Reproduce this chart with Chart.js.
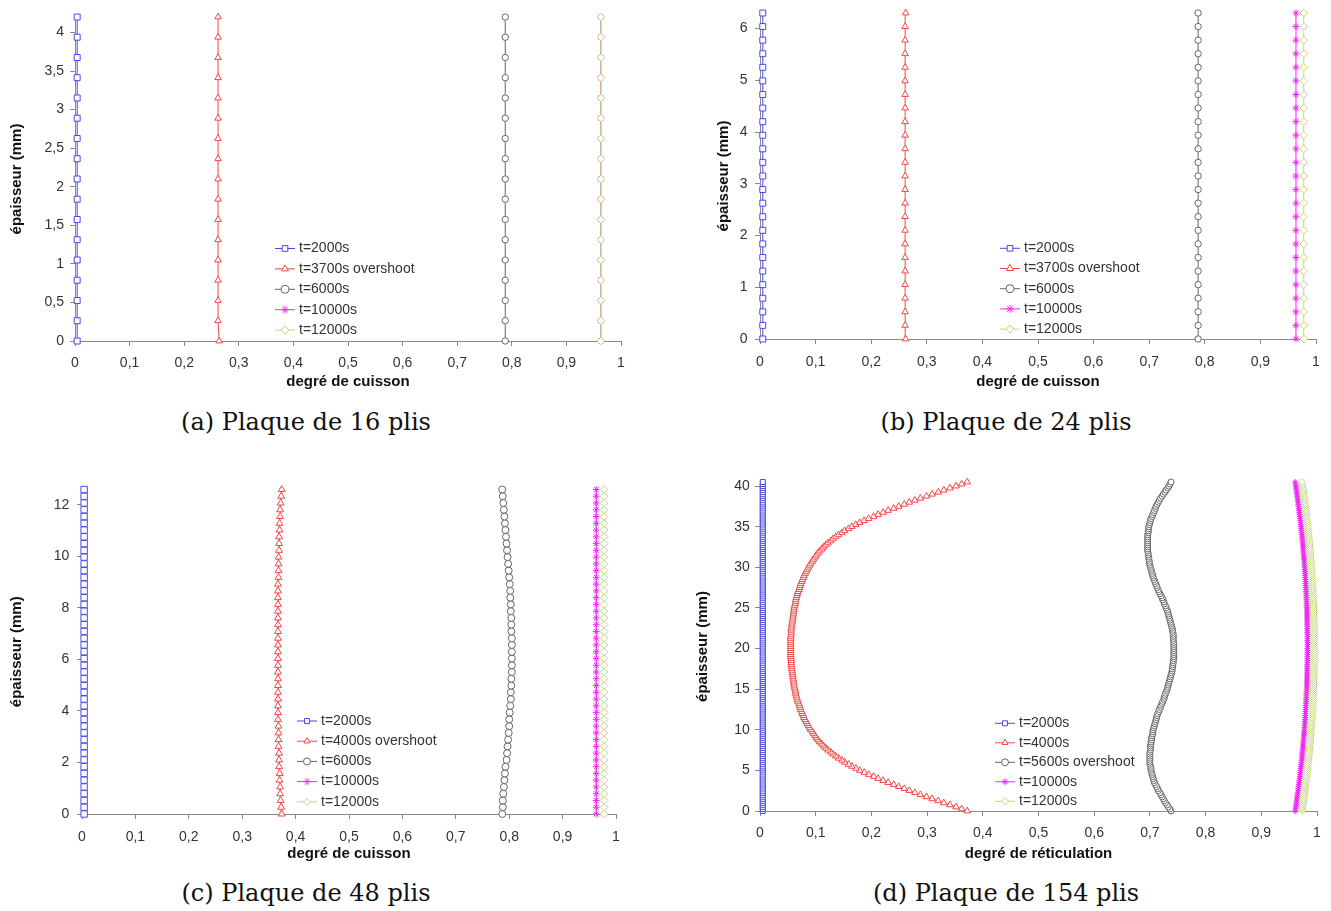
<!DOCTYPE html>
<html lang="fr">
<head>
<meta charset="utf-8">
<title>Degré de cuisson - plaques</title>
<script src="https://cdn.jsdelivr.net/npm/chart.js@4.4.1/dist/chart.umd.min.js"></script>
<style>
  body { margin: 0; background: #fff; }
  #page { position: relative; width: 1331px; height: 911px; overflow: hidden; background: #fff; }
  canvas { position: absolute; }
  .cap { position: absolute; width: 500px; text-align: center; line-height: 28px;
         font-family: "DejaVu Serif", "Liberation Serif", serif; font-size: 24px; color: #111; }
</style>
</head>
<body>
<div id="page">
  <canvas id="chartA" width="650" height="400" style="left:0;top:0"></canvas>
  <canvas id="chartB" width="666" height="400" style="left:665px;top:0"></canvas>
  <canvas id="chartC" width="650" height="400" style="left:0;top:470px"></canvas>
  <canvas id="chartD" width="666" height="400" style="left:665px;top:470px"></canvas>
  <div class="cap" style="left:56px;top:408px">(a) Plaque de 16 plis</div>
  <div class="cap" style="left:756px;top:408px">(b) Plaque de 24 plis</div>
  <div class="cap" style="left:56px;top:879px">(c) Plaque de 48 plis</div>
  <div class="cap" style="left:756px;top:879px">(d) Plaque de 154 plis</div>
</div>
<script>
// tick values
const xTicks = [0, 0.1, 0.2, 0.3, 0.4, 0.5, 0.6, 0.7, 0.8, 0.9, 1];
const yTicksA = [0, 0.5, 1, 1.5, 2, 2.5, 3, 3.5, 4];
const yTicksB = [0, 1, 2, 3, 4, 5, 6];
const yTicksC = [0, 2, 4, 6, 8, 10, 12];
const yTicksD = [0, 5, 10, 15, 20, 25, 30, 35, 40];

// legends
const labelsAB = ['t=2000s', 't=3700s overshoot', 't=6000s', 't=10000s', 't=12000s'];
const labelsC = ['t=2000s', 't=4000s overshoot', 't=6000s', 't=10000s', 't=12000s'];
const labelsD = ['t=2000s', 't=4000s', 't=5600s overshoot', 't=10000s', 't=12000s'];

// épaisseur (mm)
const thickA = [0, 0.263, 0.525, 0.788, 1.05, 1.313, 1.575, 1.838, 2.1, 2.363,
  2.625, 2.888, 3.15, 3.413, 3.675, 3.938, 4.2];
const thickB = [0, 0.263, 0.525, 0.788, 1.05, 1.313, 1.575, 1.838, 2.1, 2.363,
  2.625, 2.888, 3.15, 3.413, 3.675, 3.938, 4.2, 4.463, 4.725, 4.988,
  5.25, 5.513, 5.775, 6.038, 6.3];
const thickC = [0, 0.263, 0.525, 0.788, 1.05, 1.313, 1.575, 1.838, 2.1, 2.363,
  2.625, 2.888, 3.15, 3.413, 3.675, 3.938, 4.2, 4.463, 4.725, 4.988,
  5.25, 5.513, 5.775, 6.038, 6.3, 6.563, 6.825, 7.088, 7.35, 7.613,
  7.875, 8.138, 8.4, 8.663, 8.925, 9.188, 9.45, 9.713, 9.975, 10.238,
  10.5, 10.763, 11.025, 11.288, 11.55, 11.813, 12.075, 12.338, 12.6];
const thickD = [0, 0.25, 0.5, 0.75, 1, 1.25, 1.5, 1.75,
  2, 2.25, 2.5, 2.75, 3, 3.25, 3.5, 3.75,
  4, 4.25, 4.5, 4.75, 5, 5.25, 5.5, 5.75,
  6, 6.25, 6.5, 6.75, 7, 7.25, 7.5, 7.75,
  8, 8.25, 8.5, 8.75, 9, 9.25, 9.5, 9.75,
  10, 10.25, 10.5, 10.75, 11, 11.25, 11.5, 11.75,
  12, 12.25, 12.5, 12.75, 13, 13.25, 13.5, 13.75,
  14, 14.25, 14.5, 14.75, 15, 15.25, 15.5, 15.75,
  16, 16.25, 16.5, 16.75, 17, 17.25, 17.5, 17.75,
  18, 18.25, 18.5, 18.75, 19, 19.25, 19.5, 19.75,
  20, 20.25, 20.5, 20.75, 21, 21.25, 21.5, 21.75,
  22, 22.25, 22.5, 22.75, 23, 23.25, 23.5, 23.75,
  24, 24.25, 24.5, 24.75, 25, 25.25, 25.5, 25.75,
  26, 26.25, 26.5, 26.75, 27, 27.25, 27.5, 27.75,
  28, 28.25, 28.5, 28.75, 29, 29.25, 29.5, 29.75,
  30, 30.25, 30.5, 30.75, 31, 31.25, 31.5, 31.75,
  32, 32.25, 32.5, 32.75, 33, 33.25, 33.5, 33.75,
  34, 34.25, 34.5, 34.75, 35, 35.25, 35.5, 35.75,
  36, 36.25, 36.5, 36.75, 37, 37.25, 37.5, 37.75,
  38, 38.25, 38.5, 38.75, 39, 39.25, 39.5, 39.75,
  40, 40.25, 40.5];

// (a) 16 plis
const blueA = [0.004, 0.004, 0.004, 0.004, 0.004, 0.004, 0.004, 0.004, 0.004, 0.004,
  0.004, 0.004, 0.004, 0.004, 0.004, 0.004, 0.004];
const redA = [0.264, 0.262, 0.262, 0.262, 0.262, 0.262, 0.262, 0.262, 0.262, 0.262,
  0.262, 0.262, 0.262, 0.262, 0.262, 0.262, 0.262];
const blackA = [0.788, 0.788, 0.788, 0.788, 0.788, 0.788, 0.788, 0.788, 0.788, 0.788,
  0.788, 0.788, 0.788, 0.788, 0.788, 0.788, 0.788];
const magentaA = [0.963, 0.963, 0.963, 0.963, 0.963, 0.963, 0.963, 0.963, 0.963, 0.963,
  0.963, 0.963, 0.963, 0.963, 0.963, 0.963, 0.963];
const greenA = [0.963, 0.963, 0.963, 0.963, 0.963, 0.963, 0.963, 0.963, 0.963, 0.963,
  0.963, 0.963, 0.963, 0.963, 0.963, 0.963, 0.963];

// (b) 24 plis
const blueB = [0.005, 0.005, 0.005, 0.005, 0.005, 0.005, 0.005, 0.005, 0.005, 0.005,
  0.005, 0.005, 0.005, 0.005, 0.005, 0.005, 0.005, 0.005, 0.005, 0.005,
  0.005, 0.005, 0.005, 0.005, 0.005];
const redB = [0.262, 0.261, 0.261, 0.261, 0.261, 0.261, 0.261, 0.261, 0.261, 0.261,
  0.261, 0.261, 0.261, 0.261, 0.261, 0.261, 0.261, 0.261, 0.261, 0.261,
  0.261, 0.261, 0.261, 0.261, 0.262];
const blackB = [0.788, 0.788, 0.788, 0.788, 0.788, 0.788, 0.788, 0.788, 0.788, 0.788,
  0.788, 0.788, 0.788, 0.788, 0.788, 0.788, 0.788, 0.788, 0.788, 0.788,
  0.788, 0.788, 0.788, 0.788, 0.788];
const magentaB = [0.964, 0.964, 0.964, 0.964, 0.964, 0.964, 0.964, 0.964, 0.964, 0.964,
  0.964, 0.964, 0.964, 0.964, 0.964, 0.964, 0.964, 0.964, 0.964, 0.964,
  0.964, 0.964, 0.964, 0.964, 0.964];
const greenB = [0.978, 0.978, 0.978, 0.978, 0.978, 0.978, 0.978, 0.978, 0.978, 0.978,
  0.978, 0.978, 0.978, 0.978, 0.978, 0.978, 0.978, 0.978, 0.978, 0.978,
  0.978, 0.978, 0.978, 0.978, 0.978];

// (c) 48 plis
const blueC = [0.004, 0.004, 0.004, 0.004, 0.004, 0.004, 0.004, 0.004, 0.004, 0.004,
  0.004, 0.004, 0.004, 0.004, 0.004, 0.004, 0.004, 0.004, 0.004, 0.004,
  0.004, 0.004, 0.004, 0.004, 0.004, 0.004, 0.004, 0.004, 0.004, 0.004,
  0.004, 0.004, 0.004, 0.004, 0.004, 0.004, 0.004, 0.004, 0.004, 0.004,
  0.004, 0.004, 0.004, 0.004, 0.004, 0.004, 0.004, 0.004, 0.004];
const redC = [0.374, 0.373, 0.372, 0.371, 0.371, 0.370, 0.370, 0.369, 0.369, 0.369,
  0.368, 0.368, 0.368, 0.368, 0.367, 0.367, 0.367, 0.367, 0.367, 0.367,
  0.367, 0.367, 0.367, 0.367, 0.367, 0.367, 0.367, 0.367, 0.367, 0.367,
  0.367, 0.367, 0.367, 0.367, 0.367, 0.368, 0.368, 0.368, 0.368, 0.369,
  0.369, 0.369, 0.370, 0.370, 0.371, 0.371, 0.372, 0.373, 0.374];
const blackC = [0.787, 0.788, 0.788, 0.789, 0.790, 0.791, 0.792, 0.793, 0.795, 0.796,
  0.797, 0.798, 0.799, 0.800, 0.800, 0.801, 0.802, 0.803, 0.803, 0.804,
  0.804, 0.805, 0.805, 0.805, 0.805, 0.805, 0.805, 0.804, 0.804, 0.804,
  0.803, 0.803, 0.802, 0.802, 0.801, 0.800, 0.799, 0.798, 0.797, 0.796,
  0.795, 0.794, 0.793, 0.792, 0.791, 0.790, 0.789, 0.788, 0.787];
const magentaC = [0.963, 0.963, 0.963, 0.963, 0.963, 0.963, 0.963, 0.963, 0.963, 0.963,
  0.963, 0.963, 0.963, 0.963, 0.963, 0.963, 0.963, 0.963, 0.963, 0.963,
  0.963, 0.963, 0.963, 0.963, 0.963, 0.963, 0.963, 0.963, 0.963, 0.963,
  0.963, 0.963, 0.963, 0.963, 0.963, 0.963, 0.963, 0.963, 0.963, 0.963,
  0.963, 0.963, 0.963, 0.963, 0.963, 0.963, 0.963, 0.963, 0.963];
const greenC = [0.978, 0.978, 0.978, 0.978, 0.978, 0.978, 0.978, 0.978, 0.978, 0.978,
  0.978, 0.978, 0.978, 0.978, 0.978, 0.978, 0.978, 0.978, 0.978, 0.978,
  0.978, 0.978, 0.978, 0.978, 0.978, 0.978, 0.978, 0.978, 0.978, 0.978,
  0.978, 0.978, 0.978, 0.978, 0.978, 0.978, 0.978, 0.978, 0.978, 0.978,
  0.978, 0.978, 0.978, 0.978, 0.978, 0.978, 0.978, 0.978, 0.978];

// (d) 154 plis
const blueD = [0.005, 0.005, 0.005, 0.005, 0.005, 0.005, 0.005, 0.005, 0.005, 0.005,
  0.005, 0.005, 0.005, 0.005, 0.005, 0.005, 0.005, 0.005, 0.005, 0.005,
  0.005, 0.005, 0.005, 0.005, 0.005, 0.005, 0.005, 0.005, 0.005, 0.005,
  0.005, 0.005, 0.005, 0.005, 0.005, 0.005, 0.005, 0.005, 0.005, 0.005,
  0.005, 0.005, 0.005, 0.005, 0.005, 0.005, 0.005, 0.005, 0.005, 0.005,
  0.005, 0.005, 0.005, 0.005, 0.005, 0.005, 0.005, 0.005, 0.005, 0.005,
  0.005, 0.005, 0.005, 0.005, 0.005, 0.005, 0.005, 0.005, 0.005, 0.005,
  0.005, 0.005, 0.005, 0.005, 0.005, 0.005, 0.005, 0.005, 0.005, 0.005,
  0.005, 0.005, 0.005, 0.005, 0.005, 0.005, 0.005, 0.005, 0.005, 0.005,
  0.005, 0.005, 0.005, 0.005, 0.005, 0.005, 0.005, 0.005, 0.005, 0.005,
  0.005, 0.005, 0.005, 0.005, 0.005, 0.005, 0.005, 0.005, 0.005, 0.005,
  0.005, 0.005, 0.005, 0.005, 0.005, 0.005, 0.005, 0.005, 0.005, 0.005,
  0.005, 0.005, 0.005, 0.005, 0.005, 0.005, 0.005, 0.005, 0.005, 0.005,
  0.005, 0.005, 0.005, 0.005, 0.005, 0.005, 0.005, 0.005, 0.005, 0.005,
  0.005, 0.005, 0.005, 0.005, 0.005, 0.005, 0.005, 0.005, 0.005, 0.005,
  0.005, 0.005, 0.005, 0.005, 0.005, 0.005, 0.005, 0.005, 0.005, 0.005,
  0.005, 0.005, 0.005];
const redD = [0.372, 0.362, 0.352, 0.341, 0.330, 0.320, 0.309, 0.299, 0.288, 0.278,
  0.268, 0.259, 0.249, 0.240, 0.230, 0.221, 0.212, 0.204, 0.195, 0.187,
  0.179, 0.172, 0.165, 0.159, 0.152, 0.147, 0.141, 0.136, 0.131, 0.127,
  0.122, 0.118, 0.114, 0.111, 0.107, 0.104, 0.101, 0.099, 0.096, 0.094,
  0.091, 0.089, 0.087, 0.085, 0.083, 0.081, 0.079, 0.078, 0.076, 0.075,
  0.073, 0.072, 0.071, 0.070, 0.068, 0.067, 0.066, 0.065, 0.064, 0.064,
  0.063, 0.062, 0.061, 0.061, 0.060, 0.060, 0.059, 0.059, 0.058, 0.058,
  0.057, 0.057, 0.056, 0.056, 0.056, 0.056, 0.055, 0.055, 0.055, 0.055,
  0.055, 0.055, 0.055,
  0.055, 0.055, 0.055, 0.055, 0.056, 0.056, 0.056, 0.056, 0.057, 0.057,
  0.058, 0.058, 0.059, 0.059, 0.060, 0.060, 0.061, 0.061, 0.062, 0.063,
  0.064, 0.064, 0.065, 0.066, 0.067, 0.068, 0.070, 0.071, 0.072, 0.073,
  0.075, 0.076, 0.078, 0.079, 0.081, 0.083, 0.085, 0.087, 0.089, 0.091,
  0.094, 0.096, 0.099, 0.101, 0.104, 0.107, 0.111, 0.114, 0.118, 0.122,
  0.127, 0.131, 0.136, 0.141, 0.147, 0.152, 0.159, 0.165, 0.172, 0.179,
  0.187, 0.195, 0.204, 0.212, 0.221, 0.230, 0.240, 0.249, 0.259, 0.268,
  0.278, 0.288, 0.299, 0.309, 0.320, 0.330, 0.341, 0.352, 0.362, 0.372];
const blackD = [0.738, 0.736, 0.733, 0.731, 0.728, 0.726, 0.724, 0.722, 0.720, 0.718,
  0.715, 0.714, 0.712, 0.710, 0.708, 0.707, 0.706, 0.705, 0.704, 0.703,
  0.702, 0.702, 0.701, 0.700, 0.700, 0.700, 0.700, 0.700, 0.700, 0.700,
  0.701, 0.701, 0.701, 0.702, 0.702, 0.703, 0.703, 0.704, 0.705, 0.705,
  0.706, 0.707, 0.708, 0.709, 0.710, 0.711, 0.712, 0.713, 0.714, 0.716,
  0.717, 0.719, 0.720, 0.722, 0.723, 0.725, 0.726, 0.727, 0.728, 0.730,
  0.731, 0.732, 0.733, 0.734, 0.735, 0.736, 0.737, 0.738, 0.739, 0.740,
  0.740, 0.741, 0.741, 0.742, 0.742, 0.743, 0.743, 0.743, 0.743, 0.743,
  0.743, 0.743, 0.743, 0.743, 0.742, 0.742, 0.742, 0.742, 0.741, 0.741,
  0.740, 0.739, 0.738, 0.737, 0.736, 0.735, 0.734, 0.733, 0.732, 0.731,
  0.729, 0.728, 0.726, 0.725, 0.723, 0.722, 0.720, 0.718, 0.716, 0.715,
  0.713, 0.712, 0.710, 0.709, 0.707, 0.706, 0.705, 0.704, 0.703, 0.702,
  0.701, 0.700, 0.699, 0.699, 0.698, 0.698, 0.697, 0.697, 0.696, 0.696,
  0.696, 0.696, 0.696, 0.696, 0.696, 0.696, 0.696, 0.697, 0.697, 0.698,
  0.698, 0.699, 0.700, 0.701, 0.702, 0.704, 0.705, 0.707, 0.708, 0.710,
  0.711, 0.713, 0.715, 0.717, 0.719, 0.722, 0.724, 0.727, 0.729, 0.732,
  0.734, 0.736, 0.738];
const magentaD = [0.9610, 0.9615, 0.9621, 0.9626, 0.9631, 0.9636, 0.9641, 0.9646, 0.9651, 0.9656,
  0.9661, 0.9666, 0.9670, 0.9675, 0.9680, 0.9684, 0.9688, 0.9693, 0.9697, 0.9701,
  0.9705, 0.9709, 0.9713, 0.9717, 0.9721, 0.9725, 0.9729, 0.9732, 0.9736, 0.9739,
  0.9743, 0.9746, 0.9750, 0.9753, 0.9756, 0.9759, 0.9762, 0.9765, 0.9768, 0.9771,
  0.9774, 0.9776, 0.9779, 0.9782, 0.9784, 0.9787, 0.9789, 0.9791, 0.9794, 0.9796,
  0.9798, 0.9800, 0.9802, 0.9804, 0.9806, 0.9807, 0.9809, 0.9811, 0.9812, 0.9814,
  0.9815, 0.9817, 0.9818, 0.9819, 0.9820, 0.9821, 0.9822, 0.9823, 0.9824, 0.9825,
  0.9826, 0.9827, 0.9827, 0.9828, 0.9828, 0.9829, 0.9829, 0.9829, 0.9830, 0.9830,
  0.9830, 0.9830, 0.9830,
  0.9830, 0.9830, 0.9829, 0.9829, 0.9829, 0.9828, 0.9828, 0.9827, 0.9827, 0.9826,
  0.9825, 0.9824, 0.9823, 0.9822, 0.9821, 0.9820, 0.9819, 0.9818, 0.9817, 0.9815,
  0.9814, 0.9812, 0.9811, 0.9809, 0.9807, 0.9806, 0.9804, 0.9802, 0.9800, 0.9798,
  0.9796, 0.9794, 0.9791, 0.9789, 0.9787, 0.9784, 0.9782, 0.9779, 0.9776, 0.9774,
  0.9771, 0.9768, 0.9765, 0.9762, 0.9759, 0.9756, 0.9753, 0.9750, 0.9746, 0.9743,
  0.9739, 0.9736, 0.9732, 0.9729, 0.9725, 0.9721, 0.9717, 0.9713, 0.9709, 0.9705,
  0.9701, 0.9697, 0.9693, 0.9688, 0.9684, 0.9680, 0.9675, 0.9670, 0.9666, 0.9661,
  0.9656, 0.9651, 0.9646, 0.9641, 0.9636, 0.9631, 0.9626, 0.9621, 0.9615, 0.9610];
const greenD = [0.9730, 0.9735, 0.9741, 0.9746, 0.9751, 0.9756, 0.9761, 0.9766, 0.9771, 0.9776,
  0.9781, 0.9786, 0.9790, 0.9795, 0.9800, 0.9804, 0.9808, 0.9813, 0.9817, 0.9821,
  0.9825, 0.9829, 0.9833, 0.9837, 0.9841, 0.9845, 0.9849, 0.9852, 0.9856, 0.9859,
  0.9863, 0.9866, 0.9870, 0.9873, 0.9876, 0.9879, 0.9882, 0.9885, 0.9888, 0.9891,
  0.9894, 0.9896, 0.9899, 0.9902, 0.9904, 0.9907, 0.9909, 0.9911, 0.9914, 0.9916,
  0.9918, 0.9920, 0.9922, 0.9924, 0.9926, 0.9927, 0.9929, 0.9931, 0.9932, 0.9934,
  0.9935, 0.9937, 0.9938, 0.9939, 0.9940, 0.9941, 0.9942, 0.9943, 0.9944, 0.9945,
  0.9946, 0.9947, 0.9947, 0.9948, 0.9948, 0.9949, 0.9949, 0.9949, 0.9950, 0.9950,
  0.9950, 0.9950, 0.9950,
  0.9950, 0.9950, 0.9949, 0.9949, 0.9949, 0.9948, 0.9948, 0.9947, 0.9947, 0.9946,
  0.9945, 0.9944, 0.9943, 0.9942, 0.9941, 0.9940, 0.9939, 0.9938, 0.9937, 0.9935,
  0.9934, 0.9932, 0.9931, 0.9929, 0.9927, 0.9926, 0.9924, 0.9922, 0.9920, 0.9918,
  0.9916, 0.9914, 0.9911, 0.9909, 0.9907, 0.9904, 0.9902, 0.9899, 0.9896, 0.9894,
  0.9891, 0.9888, 0.9885, 0.9882, 0.9879, 0.9876, 0.9873, 0.9870, 0.9866, 0.9863,
  0.9859, 0.9856, 0.9852, 0.9849, 0.9845, 0.9841, 0.9837, 0.9833, 0.9829, 0.9825,
  0.9821, 0.9817, 0.9813, 0.9808, 0.9804, 0.9800, 0.9795, 0.9790, 0.9786, 0.9781,
  0.9776, 0.9771, 0.9766, 0.9761, 0.9756, 0.9751, 0.9746, 0.9741, 0.9735, 0.9730];

const COLORS = ['#4848ee', '#f04848', '#666666', '#f02cf0', '#c4d67a'];
const STYLES = ['rect', 'triangle', 'circle', 'star', 'rectRot'];
const AXIS = '#8a8a8a';
const FONT = '"Liberation Sans", Arial, sans-serif';

const fmt = v => String(v).replace('.', ',');

// legend drawn inside the plot, like the Excel one
const inlineLegend = {
  id: 'inlineLegend',
  afterDraw(chart, args, opts) {
    const ctx = chart.ctx;
    ctx.save();
    ctx.font = '14px ' + FONT;
    ctx.textBaseline = 'middle';
    ctx.textAlign = 'left';
    chart.data.datasets.forEach((ds, i) => {
      const y = opts.y + i * opts.gap;
      ctx.strokeStyle = ds.borderColor;
      ctx.lineWidth = 1;
      ctx.beginPath();
      ctx.moveTo(opts.x, y);
      ctx.lineTo(opts.x + 20, y);
      ctx.stroke();
      ctx.fillStyle = '#ffffff';
      Chart.helpers.drawPoint(ctx, { pointStyle: ds.pointStyle, radius: opts.r, borderWidth: 1, rotation: 0 }, opts.x + 10, y);
      ctx.fillStyle = '#333333';
      ctx.fillText(ds.label, opts.x + 24, y);
    });
    ctx.restore();
  }
};

function buildDatasets(labels, thick, series, radii) {
  return series.map((vals, i) => ({
    label: labels[i],
    data: vals.map((v, k) => ({ x: v, y: thick[k] })),
    borderColor: COLORS[i],
    borderWidth: 1,
    pointStyle: STYLES[i],
    pointRadius: radii[i],
    pointBorderColor: COLORS[i],
    pointBackgroundColor: '#ffffff',
    pointBorderWidth: 1,
    showLine: true,
    clip: false,
    order: series.length - 1 - i
  }));
}

function buildScales(p) {
  return {
    x: {
      type: 'linear', min: 0, max: 1,
      afterBuildTicks: s => { s.ticks = xTicks.map(v => ({ value: v })); },
      afterFit: s => { s.height = p.xh; s.paddingLeft = 0; s.paddingRight = 0; },
      border: { color: AXIS, width: 1 },
      grid: { drawOnChartArea: false, drawTicks: true, tickLength: 5, color: AXIS },
      ticks: { color: '#333', font: { family: FONT, size: 14 }, padding: p.xpad, autoSkip: false, maxRotation: 0, callback: fmt },
      title: { display: true, text: p.xTitle, color: '#111', font: { family: FONT, size: 15, weight: 'bold' }, padding: { top: 0, bottom: p.xtb } }
    },
    y: {
      type: 'linear', min: 0, max: p.ymax,
      afterBuildTicks: s => { s.ticks = p.yTicks.map(v => ({ value: v })); },
      afterFit: s => { s.width = p.yw; s.paddingTop = 0; s.paddingBottom = 0; },
      border: { color: AXIS, width: 1 },
      grid: { drawOnChartArea: false, drawTicks: true, tickLength: 5, color: AXIS },
      ticks: { color: '#333', font: { family: FONT, size: 14 }, padding: p.ypad, autoSkip: false, callback: fmt },
      title: { display: true, text: 'épaisseur (mm)', color: '#111', font: { family: FONT, size: 15, weight: 'bold' }, padding: { top: p.ytp, bottom: 0 } }
    }
  };
}

function makeChart(id, p) {
  return new Chart(document.getElementById(id), {
    type: 'scatter',
    data: { datasets: buildDatasets(p.labels, p.thick, p.series, p.radii) },
    options: {
      responsive: false,
      animation: false,
      devicePixelRatio: 1,
      layout: { padding: p.pad },
      plugins: { legend: { display: false }, tooltip: { enabled: false }, inlineLegend: p.legend },
      scales: buildScales(p)
    },
    plugins: [inlineLegend]
  });
}

makeChart('chartA', {
  labels: labelsAB, thick: thickA, series: [blueA, redA, blackA, magentaA, greenA],
  radii: [4.2, 3.8, 3.2, 3.5, 3.8],
  pad: { left: 0, top: 17, right: 29, bottom: 0 }, yw: 75, xh: 59, ymax: 4.2, yTicks: yTicksA,
  xTitle: 'degré de cuisson', xtb: 9.3, ytp: 8, xpad: 8.3, ypad: 6,
  legend: { x: 275, y: 248.5, gap: 20.4, r: 4 }
});
makeChart('chartB', {
  labels: labelsAB, thick: thickB, series: [blueB, redB, blackB, magentaB, greenB],
  radii: [4.2, 3.8, 3.2, 3.5, 3.8],
  pad: { left: 0, top: 13, right: 15, bottom: 0 }, yw: 95, xh: 61, ymax: 6.3, yTicks: yTicksB,
  xTitle: 'degré de cuisson', xtb: 9.3, ytp: 49.5, xpad: 9.3, ypad: 7.4,
  legend: { x: 335, y: 248.3, gap: 20.2, r: 4 }
});
makeChart('chartC', {
  labels: labelsC, thick: thickC, series: [blueC, redC, blackC, magentaC, greenC],
  radii: [4.5, 4, 3.5, 3.5, 3.8],
  pad: { left: 0, top: 19.5, right: 34, bottom: 0 }, yw: 82, xh: 56, ymax: 12.6, yTicks: yTicksC,
  xTitle: 'degré de cuisson', xtb: 7, ytp: 8, xpad: 9.3, ypad: 7.6,
  legend: { x: 297, y: 251, gap: 20.2, r: 3.5 }
});
makeChart('chartD', {
  labels: labelsD, thick: thickD, series: [blueD, redD, blackD, magentaD, greenD],
  radii: [3.5, 3.8, 3, 3, 3.5],
  pad: { left: 0, top: 12, right: 14, bottom: 0 }, yw: 95, xh: 59, ymax: 40.5, yTicks: yTicksD,
  xTitle: 'degré de réticulation', xtb: 7, ytp: 29, xpad: 8.3, ypad: 5.3,
  legend: { x: 330, y: 253.3, gap: 19.5, r: 3.5 }
});
</script>
</body>
</html>
